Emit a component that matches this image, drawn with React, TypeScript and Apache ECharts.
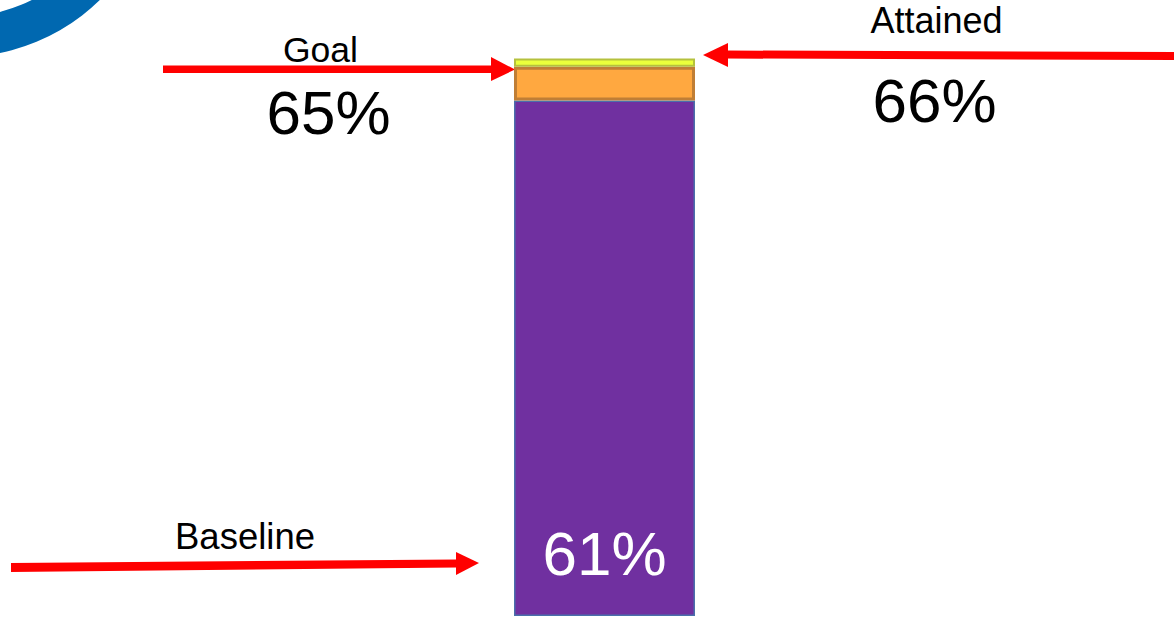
import React, { useEffect, useRef } from "react";
import * as echarts from "echarts";

const categories = ["Result"];
const baselineValues = [61];
const goalIncrement = [4];
const attainedIncrement = [1];
const annotationLabels = ["Goal", "Attained", "Baseline"];

const FONT = "'Liberation Sans', Arial, sans-serif";

export default function App() {
  const ref = useRef<HTMLDivElement>(null);
  useEffect(() => {
    if (!ref.current) return;
    const chart = echarts.init(ref.current, undefined, { renderer: "svg" });
    const goal = baselineValues[0] + goalIncrement[0];
    const attained = goal + attainedIncrement[0];
    const red = "#FF0000";
    chart.setOption({
      animation: false,
      grid: { left: 514, right: 479, top: 55, bottom: 1 },
      xAxis: { type: "category", data: categories, show: false },
      yAxis: { type: "value", min: 0, max: 66.4, show: false },
      series: [
        {
          type: "bar",
          stack: "s",
          barWidth: "100%",
          data: baselineValues,
          itemStyle: { color: "#7030A0", borderColor: "#4A6FAB", borderWidth: 1.5 },
          label: {
            show: true,
            position: "insideBottom",
            distance: 32,
            formatter: (p: any) => p.value + "%",
            color: "#FFFFFF",
            fontSize: 62,
            fontFamily: FONT,
          },
        },
        {
          type: "bar",
          stack: "s",
          data: goalIncrement,
          itemStyle: { color: "#FFA840", borderColor: "#C07E35", borderWidth: 3 },
        },
        {
          type: "bar",
          stack: "s",
          data: attainedIncrement,
          itemStyle: { color: "#EBFF3C", borderColor: "#B5C13E", borderWidth: 2 },
        },
      ],
      graphic: [
        {
          type: "ring",
          shape: { cx: -40, cy: -143, r: 200, r0: 160 },
          style: { fill: "#0068B0" },
          silent: true,
        },
        // Goal arrow
        {
          type: "polygon",
          shape: { points: [[163, 65.5], [492, 65.5], [492, 73], [163, 73]] },
          style: { fill: red },
        },
        {
          type: "polygon",
          shape: { points: [[491, 57], [515, 69.5], [491, 81]] },
          style: { fill: red },
        },
        // Attained arrow
        {
          type: "polygon",
          shape: { points: [[726, 50.5], [1174, 52], [1174, 60], [726, 58.5]] },
          style: { fill: red },
        },
        {
          type: "polygon",
          shape: { points: [[703, 55], [728, 43], [728, 67]] },
          style: { fill: red },
        },
        // Baseline arrow
        {
          type: "polygon",
          shape: { points: [[11, 563], [457, 559.5], [457, 567.5], [11, 572]] },
          style: { fill: red },
        },
        {
          type: "polygon",
          shape: { points: [[456, 552], [479, 563], [456, 575]] },
          style: { fill: red },
        },
        {
          type: "text",
          x: 320.5,
          y: 50,
          style: { text: annotationLabels[0], fontSize: 35.5, fontFamily: FONT, fill: "#000", align: "center", verticalAlign: "middle" },
        },
        {
          type: "text",
          x: 328.5,
          y: 112.5,
          style: { text: goal + "%", fontSize: 62, fontFamily: FONT, fill: "#000", align: "center", verticalAlign: "middle" },
        },
        {
          type: "text",
          x: 936.5,
          y: 20,
          style: { text: annotationLabels[1], fontSize: 36, fontFamily: FONT, fill: "#000", align: "center", verticalAlign: "middle" },
        },
        {
          type: "text",
          x: 934.5,
          y: 100,
          style: { text: attained + "%", fontSize: 62, fontFamily: FONT, fill: "#000", align: "center", verticalAlign: "middle" },
        },
        {
          type: "text",
          x: 245,
          y: 536,
          style: { text: annotationLabels[2], fontSize: 36.5, fontFamily: FONT, fill: "#000", align: "center", verticalAlign: "middle" },
        },
      ],
    });
    return () => chart.dispose();
  }, []);
  return (
    <div
      ref={ref}
      style={{ position: "fixed", left: 0, top: 0, width: 1174, height: 617, background: "#fff" }}
    />
  );
}
